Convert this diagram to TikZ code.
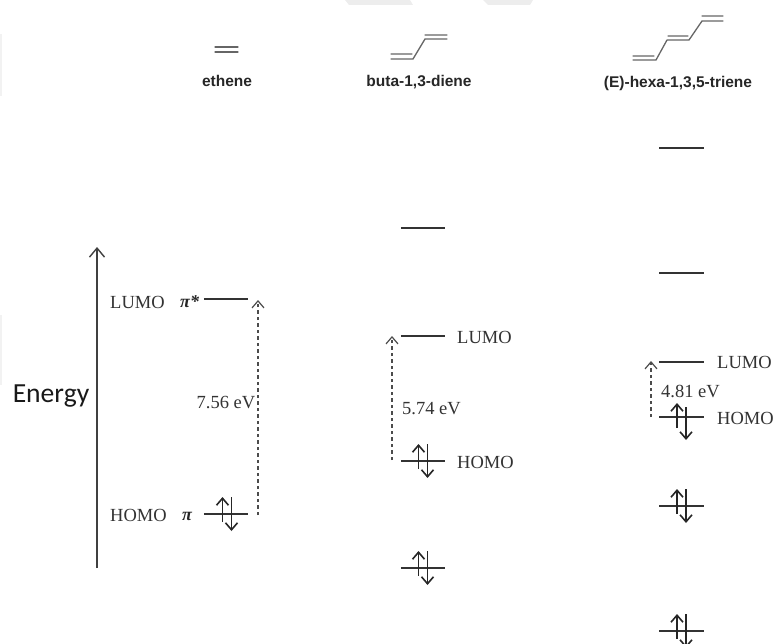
\documentclass[tikz,border=0pt]{standalone}
\usepackage{fontspec}
\setmainfont{Liberation Serif}
\setsansfont{Liberation Sans}
\newfontfamily\carl{Carlito}
\usetikzlibrary{arrows.meta}
\tikzset{
  levelnode/.style={minimum width=44.5pt,minimum height=0pt,inner sep=0pt,outer sep=0pt},
  levelline/.style={line width=1.3pt,black!80},
  spin/.style={line width=1.3pt,black!85,-{Straight Barb[length=7pt,width=12pt,line width=1.6pt]}},
  gap/.style={dash pattern=on 3.5pt off 3pt,line width=1.1pt,black!70,-{Straight Barb[length=7pt,width=12pt,line width=1.2pt]}},
  bond/.style={line width=1.3pt,black!60,line cap=round,line join=round},
  lab/.style={font=\fontsize{18.5}{20}\selectfont,text=black!80,inner sep=0pt},
  molname/.style={font=\fontsize{15.5}{17}\selectfont\sffamily\bfseries,text=black!85,inner sep=0pt},
  orbmark/.style={font=\fontsize{18}{20}\selectfont\bfseries\itshape,text=black!85,inner sep=0pt},
}
\newcommand{\lvl}[3]{\node[levelnode] (#1) at (#2,#3) {}; \draw[levelline] (#1.west) -- (#1.east);}
\newcommand{\epair}[2][0pt]{%
  \draw[spin] ([shift={({-4.5pt+#1},-8pt)}]#2.center) -- ([shift={({-4.5pt+#1},17pt)}]#2.center);
  \draw[spin] ([shift={({4.5pt+#1},17pt)}]#2.center) -- ([shift={({4.5pt+#1},-17pt)}]#2.center);}
\begin{document}
\begin{tikzpicture}[x=1pt,y=-1pt]
\useasboundingbox (0,0) rectangle (775,644);
\fill[black!7] (345,0) -- (410,0) -- (413,5) -- (349,5) -- cycle;
\fill[black!7] (483,0) -- (533,0) -- (530,5) -- (488,5) -- cycle;
\fill[black!5] (0,34) rectangle (2,96);
\fill[black!5] (0,315) rectangle (2,385);
% molecules
\draw[bond] (215,47) -- (238,47) (215,52) -- (238,52);
\draw[bond] (391,54) -- (412,54) (391,59) -- (413,59) -- (425,39) -- (447,39) (425,35) -- (447,35);
\draw[bond] (633,56) -- (654,56) (633,60) -- (656,60) -- (667,40) -- (689,40) -- (702,21) -- (723,21) (668,36) -- (688,36) (702,16) -- (723,16);
\node[molname] (n1) at (227,81) {ethene};
\node[molname] (n2) at (419,82) {buta-1,3-diene};
\node[molname] (n3) at (678,83) {(E)-hexa-1,3,5-triene};
% energy axis
\coordinate (ea) at (97,568);
\coordinate (eb) at (97,247);
\draw[line width=1.5pt,black!75,-{Straight Barb[length=9pt,width=15pt,line width=1.4pt]}] (ea) -- (eb);
\node[font=\fontsize{27.6}{29}\selectfont\carl,text=black!90,inner sep=0pt] (en) at (51,396) {Energy};
% ethene
\lvl{a1}{226}{299}
\lvl{a2}{226}{514} \epair[1pt]{a2}
\node[lab,anchor=west] (a1l) at (110,302) {LUMO};
\node[orbmark,anchor=west] (a1m) at (180,302) {π*};
\node[lab,anchor=west] (a2l) at (110,515) {HOMO};
\node[orbmark,anchor=west] (a2m) at (182,516) {π};
\coordinate (a3) at (258,515);
\coordinate (a4) at (258,300);
\draw[gap] (a3) -- (a4);
\node[lab,anchor=east] (a5) at (255.5,403) {7.56 eV};
% butadiene
\lvl{b1}{423}{228}
\lvl{b2}{423}{336}
\lvl{b3}{423}{461} \epair{b3}
\lvl{b4}{423}{568} \epair{b4}
\node[lab,anchor=west] (b2l) at (457,337) {LUMO};
\node[lab,anchor=west] (b3l) at (457,462) {HOMO};
\coordinate (b5) at (392,460);
\coordinate (b6) at (392,336);
\draw[gap] (b5) -- (b6);
\node[lab,anchor=west] (b7) at (402,408.5) {5.74 eV};
% hexatriene
\lvl{c1}{681.5}{148}
\lvl{c2}{681.5}{273}
\lvl{c3}{681.5}{362}
\lvl{c4}{681.5}{417}
\draw[spin] ([shift={(-4.5pt,-11pt)}]c4.center) -- ([shift={(-4.5pt,14pt)}]c4.center);
\draw[spin] ([shift={(4.5pt,10pt)}]c4.center) -- ([shift={(4.5pt,-23pt)}]c4.center);
\lvl{c5}{681.5}{506} \epair{c5}
\lvl{c6}{681.5}{631} \epair{c6}
\node[lab,anchor=west] (c3l) at (717,362) {LUMO};
\node[lab,anchor=west] (c4l) at (717,418) {HOMO};
\coordinate (c7) at (651,417);
\coordinate (c8) at (651,361);
\draw[gap] (c7) -- (c8);
\node[lab,anchor=west] (c9) at (661,391) {4.81 eV};
\end{tikzpicture}
\end{document}
